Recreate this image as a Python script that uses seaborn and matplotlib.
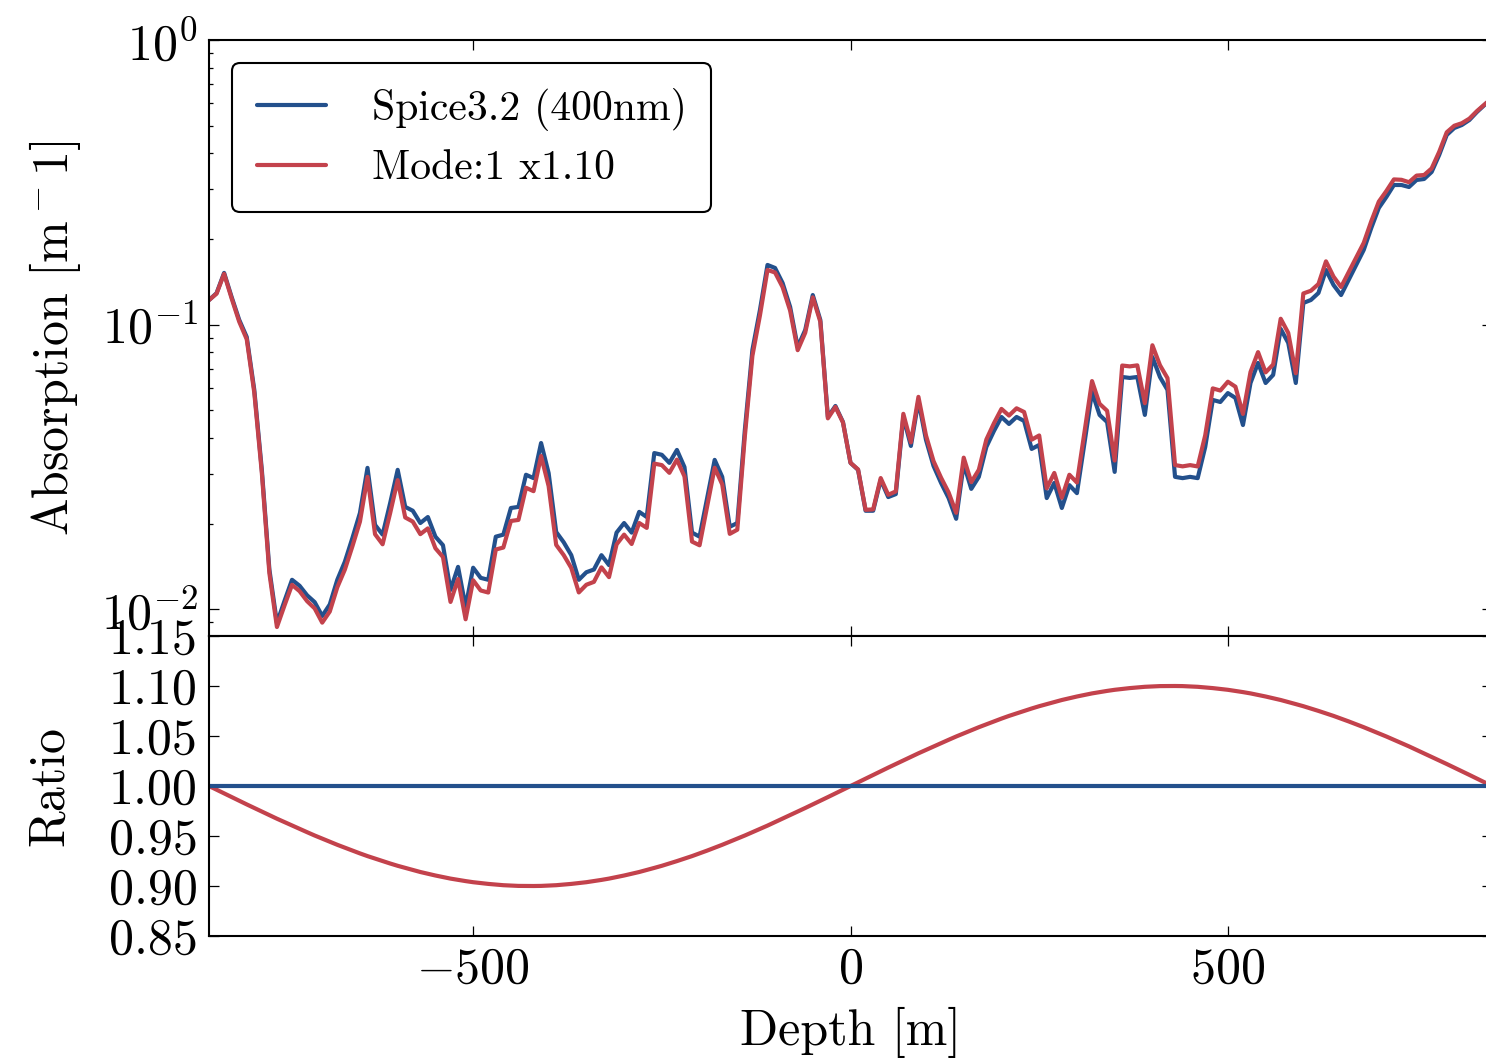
import numpy as np
import pandas as pd
import matplotlib
matplotlib.use("Agg")
import matplotlib.pyplot as plt
import seaborn as sns

# ---------------- data ----------------
depth = np.arange(-850, 851, 10)  # depth grid [m], 10 m layers

spice_abs = [
    0.122, 0.129, 0.152, 0.125, 0.104, 0.0905, 0.059, 0.0309, 0.0138, 0.00896,
    0.0107, 0.0127, 0.0121, 0.0112, 0.0106, 0.00948, 0.0104, 0.0127, 0.0147, 0.0178,
    0.0218, 0.0314, 0.0198, 0.0183, 0.0236, 0.0309, 0.0229, 0.0222, 0.0201, 0.0211,
    0.0180, 0.0168, 0.0117, 0.0141, 0.0102, 0.0140, 0.0129, 0.0127, 0.0180, 0.0183,
    0.0227, 0.0229, 0.0297, 0.0289, 0.0384, 0.0301, 0.0187, 0.0172, 0.0155, 0.0127,
    0.0135, 0.0138, 0.0155, 0.0143, 0.0186, 0.0201, 0.0186, 0.0220, 0.0211, 0.0354,
    0.0349, 0.0327, 0.0363, 0.0316, 0.0186, 0.0180, 0.0246, 0.0335, 0.0292, 0.0195,
    0.0201, 0.0427, 0.0815, 0.1126, 0.1621, 0.1582, 0.1401, 0.1154, 0.0835, 0.0958,
    0.1271, 0.1039, 0.0474, 0.0518, 0.0455, 0.0327, 0.0309, 0.0222, 0.0222, 0.0285,
    0.0248, 0.0254, 0.0474, 0.0375, 0.0540, 0.0394, 0.0319, 0.0278, 0.0246, 0.0208,
    0.0324, 0.0265, 0.0292, 0.0372, 0.0423, 0.0474, 0.0448, 0.0474, 0.0459, 0.0366,
    0.0378, 0.0246, 0.0278, 0.0227, 0.0273, 0.0256, 0.0384, 0.0580, 0.0482, 0.0455,
    0.0304, 0.0655, 0.0650, 0.0655, 0.0482, 0.0770, 0.0655, 0.0590, 0.0292, 0.0289,
    0.0292, 0.0289, 0.0372, 0.0544, 0.0535, 0.0575, 0.0553, 0.0444, 0.0624, 0.0734,
    0.0624, 0.0666, 0.0966, 0.0863, 0.0624, 0.1192, 0.1221, 0.1292, 0.1556, 0.1378,
    0.1271, 0.1436, 0.1621, 0.1830, 0.2186, 0.2570, 0.2809, 0.3095, 0.3095, 0.3045,
    0.3223, 0.3249, 0.3439, 0.3946, 0.4638, 0.4908, 0.5028, 0.5236, 0.5586, 0.591,
    0.626,
]

ratio_mode = [
    1.0000, 0.9963, 0.9926, 0.9889, 0.9853, 0.9816, 0.9780, 0.9744, 0.9709, 0.9673,
    0.9639, 0.9604, 0.9571, 0.9538, 0.9505, 0.9474, 0.9443, 0.9412, 0.9383, 0.9354,
    0.9326, 0.9299, 0.9274, 0.9249, 0.9225, 0.9202, 0.9181, 0.9160, 0.9140, 0.9122,
    0.9105, 0.9089, 0.9074, 0.9061, 0.9049, 0.9038, 0.9029, 0.9021, 0.9014, 0.9008,
    0.9004, 0.9001, 0.9000, 0.9000, 0.9001, 0.9004, 0.9008, 0.9014, 0.9021, 0.9029,
    0.9038, 0.9049, 0.9061, 0.9074, 0.9089, 0.9105, 0.9122, 0.9140, 0.9160, 0.9181,
    0.9202, 0.9225, 0.9249, 0.9274, 0.9299, 0.9326, 0.9354, 0.9383, 0.9412, 0.9443,
    0.9474, 0.9505, 0.9538, 0.9571, 0.9604, 0.9639, 0.9673, 0.9709, 0.9744, 0.9780,
    0.9816, 0.9853, 0.9889, 0.9926, 0.9963, 1.0000,
    1.0037, 1.0074, 1.0111, 1.0147, 1.0184, 1.0220, 1.0256, 1.0291, 1.0327,
    1.0361, 1.0396, 1.0429, 1.0462, 1.0495, 1.0526, 1.0557, 1.0588, 1.0617, 1.0646,
    1.0674, 1.0701, 1.0726, 1.0751, 1.0775, 1.0798, 1.0819, 1.0840, 1.0860, 1.0878,
    1.0895, 1.0911, 1.0926, 1.0939, 1.0951, 1.0962, 1.0971, 1.0979, 1.0986, 1.0992,
    1.0996, 1.0999, 1.1000, 1.1000, 1.0999, 1.0996, 1.0992, 1.0986, 1.0979, 1.0971,
    1.0962, 1.0951, 1.0939, 1.0926, 1.0911, 1.0895, 1.0878, 1.0860, 1.0840, 1.0819,
    1.0798, 1.0775, 1.0751, 1.0726, 1.0701, 1.0674, 1.0646, 1.0617, 1.0588, 1.0557,
    1.0526, 1.0495, 1.0462, 1.0429, 1.0396, 1.0361, 1.0327, 1.0291, 1.0256, 1.0220,
    1.0184, 1.0147, 1.0111, 1.0074, 1.0037, 1.0000,
]

series_labels = ["Spice3.2 (400nm)", "Mode:1 x1.10"]
x_ticks = [-500, 0, 500]
ratio_ticks = [0.85, 0.90, 0.95, 1.00, 1.05, 1.10, 1.15]

# ---------------- style ----------------
BLUE = "#23508c"
RED = "#c3424c"

sns.set_style("ticks")
plt.rcParams.update({
    "font.family": "serif",
    "font.serif": ["cmr10"],
    "mathtext.fontset": "cm",
    "axes.formatter.use_mathtext": True,
    "axes.unicode_minus": True,
    "font.size": 36,
    "axes.linewidth": 1.5,
    "axes.edgecolor": "black",
    "xtick.color": "black",
    "ytick.color": "black",
    "text.color": "black",
    "axes.labelcolor": "black",
})

df = pd.DataFrame({"depth": depth, "spice": spice_abs, "ratio": ratio_mode})
df["mode"] = df["spice"] * df["ratio"]
df["spice_ratio"] = df["spice"] / df["spice"]

fig = plt.figure(figsize=(14.86, 10.63), dpi=100)
ax1 = fig.add_axes([0.14065, 0.40169, 0.8634, 0.56068])
ax2 = fig.add_axes([0.14065, 0.11947, 0.8634, 0.28222], sharex=ax1)

lw = 3.0
sns.lineplot(data=df, x="depth", y="spice", ax=ax1, color=BLUE, lw=lw,
             label=series_labels[0], estimator=None)
sns.lineplot(data=df, x="depth", y="mode", ax=ax1, color=RED, lw=lw,
             label=series_labels[1], estimator=None)
ax1.set_yscale("log")
ax1.set_ylim(0.00806, 1.0)
ax1.set_xlim(-850, 850)
ax1.set_ylabel(r"Absorption [m$^-1$]", fontsize=36)
ax1.set_xlabel("")
ax1.yaxis.set_label_coords(-0.098, 0.5)

sns.lineplot(data=df, x="depth", y="ratio", ax=ax2, color=RED, lw=lw, estimator=None)
sns.lineplot(data=df, x="depth", y="spice_ratio", ax=ax2, color=BLUE, lw=lw, estimator=None)
ax2.set_ylim(0.85, 1.15)
ax2.set_yticks(ratio_ticks)
ax2.set_yticklabels([f"{t:.2f}" for t in ratio_ticks])
ax2.set_xticks(x_ticks)
ax2.set_xlim(-850, 850)
ax2.set_ylabel("Ratio", fontsize=36)
ax2.set_xlabel("Depth [m]", fontsize=36)
ax2.yaxis.set_label_coords(-0.106, 0.5)
ax2.xaxis.set_label_coords(0.5, -0.235)

for ax in (ax1, ax2):
    ax.tick_params(which="both", direction="in", top=True, right=True,
                   labelsize=36, width=0.9, colors="black")
    ax.tick_params(which="major", length=7, pad=8)
    ax.tick_params(which="minor", length=3)
    for s in ax.spines.values():
        s.set_linewidth(1.5)
        s.set_color("black")
ax1.tick_params(labelbottom=False)

leg = ax1.legend(loc="upper left", bbox_to_anchor=(0.0179, 0.9614), borderaxespad=0,
                 fontsize=30, frameon=True, fancybox=True, framealpha=1,
                 edgecolor="black", handlelength=1.65, handletextpad=1.1,
                 borderpad=0.6, labelspacing=0.45)
leg.get_frame().set_linewidth(1.5)

fig.savefig("out.png", dpi=100)
